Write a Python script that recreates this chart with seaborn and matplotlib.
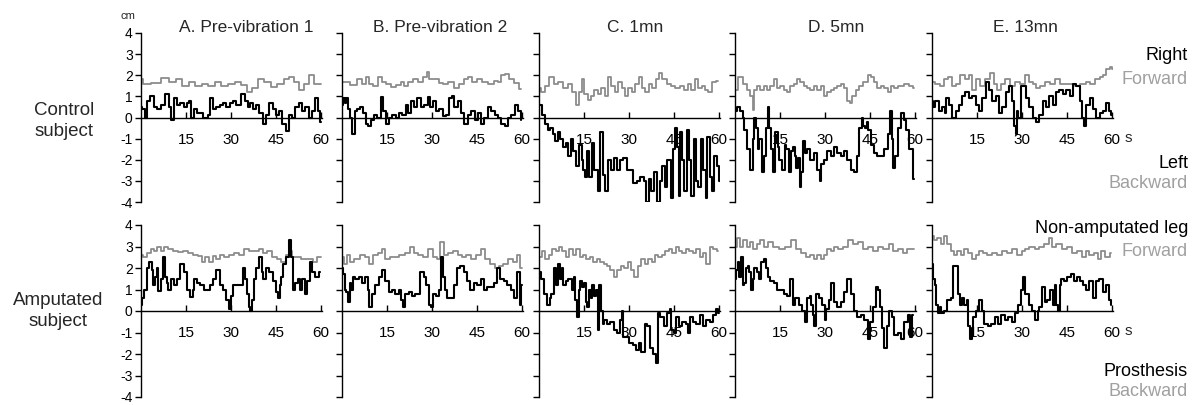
import matplotlib
matplotlib.use('Agg')
import matplotlib.pyplot as plt
import seaborn as sns

sns.set_style('white')
plt.rcParams['font.family'] = ['Liberation Sans', 'DejaVu Sans']

# ---------------- data (time in s, displacement in cm) ----------------
# Control subject
ctl_A_black_t = [0,0.8,1.6,2.4,3.6,4.9,6.0,7.1,8.8,9.9,10.4,11.5,12.6,13.7,14.8,15.7,16.4,17.2,18.1,19.2,
                 20.3,20.8,21.9,22.5,23.5,24.6,25.7,26.8,27.9,29.0,30.1,31.2,32.3,34.0,35.0,36.1,36.7,37.8,38.9,40.0,
                 41.1,42.2,43.3,44.4,45.5,46.5,47.6,48.7,49.8,50.9,52.0,53.1,54.2,55.3,56.4,57.5,58.6,59.1,60.0]
ctl_A_black_cm = [0.5,0.4,0.0,0.8,1.0,0.5,0.4,0.6,1.1,0.5,-0.1,0.9,0.6,0.7,0.5,0.7,0.8,0.0,0.4,0.2,
                  0.2,0.0,0.0,0.1,0.9,0.4,0.5,0.6,0.7,0.5,0.7,0.8,0.6,1.1,0.8,0.5,0.7,0.4,0.6,0.2,
                  -0.3,0.1,0.7,0.4,0.1,0.3,-0.3,-0.65,0.1,0.0,0.5,0.7,0.3,0.5,0.0,0.3,0.9,0.3,-0.2]
ctl_A_gray_t = [0,1.6,4.9,8.2,10.4,12.6,14.8,17.0,19.2,21.4,23.5,25.7,27.9,30.1,32.3,34.5,36.1,37.8,40.0,42.2,
                44.4,46.5,48.7,49.8,52.0,53.6,55.3,56.4,58.6,60.0]
ctl_A_gray_cm = [1.8,1.6,1.65,1.85,1.7,1.8,1.5,1.7,1.5,1.6,1.5,1.7,1.5,1.6,1.7,1.55,1.2,1.4,1.8,1.7,
                 1.45,1.6,1.8,1.9,1.7,1.3,1.6,2.0,1.6,1.6]

ctl_B_black_t = [0,0.6,1.1,1.7,2.2,2.8,3.9,4.5,5.6,6.7,7.3,8.4,8.9,10.1,11.2,12.3,13.4,14.0,15.1,16.2,
                 17.3,18.4,19.6,20.7,21.8,22.3,23.5,24.6,25.7,26.8,27.9,29.1,29.6,30.7,31.8,33.0,34.1,35.2,36.3,36.9,
                 38.0,39.1,40.2,41.3,42.5,43.6,44.7,45.8,46.9,48.0,49.2,50.3,51.4,52.5,53.6,54.7,55.9,57.0,58.1,59.2,59.8]
ctl_B_black_cm = [0.6,0.9,0.7,0.9,0.4,0.0,-0.8,0.3,0.4,0.5,0.2,-0.3,-0.4,-0.1,0.1,0.0,0.95,0.3,-0.3,0.0,
                  0.1,0.0,0.2,0.1,0.6,0.2,0.8,0.5,0.9,0.5,0.6,0.95,0.5,0.8,0.3,0.4,0.05,0.1,0.9,1.0,
                  0.5,0.8,0.2,-0.3,0.1,0.3,-0.1,0.2,-0.3,0.0,0.5,0.3,0.1,0.0,-0.3,-0.4,0.0,0.1,0.6,0.3,-0.1]
ctl_B_gray_t = [0,1.7,3.9,6.1,7.3,8.4,9.5,11.2,12.8,14.0,15.6,17.3,19.0,20.1,21.2,22.9,24.6,26.3,27.9,28.7,
                29.6,31.3,33.0,34.6,36.3,38.0,39.7,41.3,42.5,44.1,45.8,47.5,49.7,51.4,52.5,53.6,54.7,56.4,58.1,59.8]
ctl_B_gray_cm = [1.7,1.7,1.55,1.8,1.6,1.9,1.6,1.5,1.9,1.7,1.6,1.45,1.55,1.7,1.5,1.7,1.8,1.7,1.9,2.15,
                 1.8,1.8,1.65,1.6,1.7,1.4,1.6,1.8,1.9,1.7,1.8,1.7,1.6,1.75,1.7,2.0,2.05,1.8,1.65,1.35]

ctl_C_black_t = [0,0.3,1.5,2.6,3.2,4.3,4.9,6.0,6.6,7.7,8.3,9.4,10.0,11.1,11.7,12.8,13.9,14.5,15.1,15.6,
                 16.2,17.3,17.9,19.0,20.2,20.7,21.9,22.4,23.6,24.7,25.3,26.4,27.5,28.7,29.8,30.9,32.0,33.2,34.3,35.4,
                 36.0,37.1,37.7,38.8,40.0,40.5,41.7,42.2,43.4,44.5,45.1,45.6,46.2,46.8,47.3,47.9,49.0,49.6,50.2,51.3,
                 51.9,52.4,53.6,54.1,55.3,55.8,56.4,57.5,58.1,58.7,59.8,60.2]
ctl_C_black_cm = [0.5,0.6,0.1,-0.3,-0.6,-0.5,-0.8,-1.1,-0.7,-1.0,-1.4,-1.2,-1.8,-1.0,-1.6,-2.3,-1.3,-2.0,-2.5,-2.8,
                  -1.6,-2.8,-1.2,-2.5,-3.5,-0.7,-2.7,-3.5,-2.0,-2.5,-1.9,-2.5,-2.0,-1.9,-2.5,-2.5,-3.1,-3.0,-2.8,-3.0,
                  -4.0,-2.9,-3.5,-2.6,-4.0,-3.0,-2.3,-3.3,-2.0,-3.8,-1.5,-0.5,-1.4,-3.7,-0.7,-2.0,-3.5,-0.6,-2.0,-3.7,
                  -1.0,-3.0,-3.3,-1.0,-2.5,-3.8,-0.9,-2.8,-3.5,-1.8,-2.3,-3.0]
ctl_C_gray_t = [0,1.5,2.6,4.3,5.4,7.1,8.8,10.5,11.7,12.8,13.9,14.5,15.6,16.8,17.9,19.0,20.2,21.3,22.4,23.6,
                24.7,25.8,26.9,28.1,29.2,30.3,31.5,32.6,33.7,34.9,36.0,37.1,38.3,39.4,40.5,41.7,43.4,44.5,46.2,47.9,
                49.0,50.2,51.3,52.4,53.6,54.7,55.8,56.9,58.1,59.8]
ctl_C_gray_cm = [1.4,1.2,1.5,1.9,1.6,1.7,1.4,1.6,1.2,0.6,1.2,1.8,1.1,0.85,1.0,1.3,1.1,1.4,1.0,1.9,
                 1.5,1.2,1.7,1.4,1.0,1.4,1.2,1.6,1.9,1.4,1.2,1.6,1.4,1.8,2.1,1.8,1.6,1.5,1.4,1.5,
                 1.3,1.6,1.3,1.8,1.4,1.5,1.3,1.2,1.7,1.75]

ctl_D_black_t = [0,1.1,2.2,2.8,3.4,4.5,5.6,6.1,6.7,7.3,7.8,8.4,9.5,10.1,10.6,11.2,11.7,12.3,12.8,14.0,
                 14.5,15.1,16.2,16.8,17.3,18.4,19.0,19.6,20.1,20.7,21.2,21.8,22.3,22.9,23.5,24.6,25.7,26.8,27.9,28.5,
                 29.1,30.2,31.3,32.4,33.5,34.6,35.8,36.9,38.0,39.1,40.2,40.8,41.9,42.5,43.0,43.6,44.1,44.7,45.8,46.9,
                 48.0,49.2,50.3,51.4,52.0,52.5,53.1,53.6,54.7,55.9,56.4,57.5,58.7,59.8]
ctl_D_black_cm = [0.3,0.5,0.3,0.0,-0.6,-1.5,-2.5,-1.0,0.0,-0.5,-1.5,-1.0,-2.6,-1.8,-0.5,0.5,-0.5,-1.5,-2.6,-0.7,
                  -1.4,-2.0,-2.5,-1.3,-1.5,-2.6,-1.6,-1.4,-1.8,-2.4,-1.9,-3.3,-2.6,-1.1,-1.7,-1.5,-2.0,-1.7,-2.5,-3.0,
                  -2.2,-2.0,-1.6,-1.8,-1.4,-1.7,-1.8,-1.6,-2.0,-2.5,-2.6,-1.8,-0.5,0.0,-0.4,-0.5,-0.2,-0.6,-1.3,-1.7,
                  -1.8,-1.8,-1.5,-0.8,0.3,-1.0,-2.4,-1.8,-0.5,0.2,-0.1,-0.6,-1.5,-2.9]
ctl_D_gray_t = [0,2.2,3.4,4.5,5.6,6.1,6.7,7.8,8.9,10.1,11.2,12.3,13.4,14.5,15.6,16.8,17.9,19.0,20.1,21.2,
                22.3,23.5,24.6,25.7,26.8,27.9,29.1,30.2,31.3,32.4,33.5,34.6,35.8,36.9,38.0,38.5,39.7,40.8,41.9,43.6,
                44.7,45.8,46.9,48.0,49.2,50.3,51.4,52.5,53.6,55.3,57.0,58.7,59.8]
ctl_D_gray_cm = [1.3,1.9,1.6,1.3,1.0,0.35,1.3,1.5,1.3,1.5,1.3,1.5,1.8,1.4,1.5,1.3,1.2,1.5,1.6,1.8,
                 1.7,1.5,1.4,1.3,1.5,1.3,1.5,1.0,1.2,1.3,1.4,1.5,1.6,1.4,0.8,0.7,1.0,1.3,1.5,1.7,
                 2.0,1.9,1.7,1.4,1.5,1.4,1.2,1.5,1.4,1.5,1.6,1.5,1.4]

ctl_E_black_t = [0,0.6,1.7,2.8,3.9,4.5,5.0,6.1,7.3,8.4,9.5,10.6,11.7,12.8,14.0,15.1,16.2,17.3,18.4,19.6,
                 20.7,21.8,22.9,24.0,25.1,26.3,27.0,27.7,28.0,28.4,29.1,30.2,30.7,31.8,33.0,34.1,35.2,36.3,37.4,38.5,
                 39.7,40.8,41.9,43.0,44.1,45.3,46.4,47.5,48.6,49.7,50.3,50.8,52.0,53.1,54.2,55.3,56.4,57.5,58.7,59.2,60.0]
ctl_E_black_cm = [0.8,0.5,0.8,0.3,0.5,0.2,0.9,0.6,0.0,0.3,0.6,1.0,1.2,0.9,1.0,0.6,0.3,0.9,1.7,1.3,
                  0.8,1.0,0.2,0.5,1.2,1.5,0.8,-0.4,-0.8,0.3,0.0,1.5,1.5,0.9,0.5,0.0,-0.2,0.1,0.8,0.5,
                  1.0,0.6,1.2,1.3,1.1,1.3,1.0,1.6,1.5,0.8,0.0,-0.4,0.6,0.9,0.4,0.0,0.2,0.3,0.7,0.3,0.1]
ctl_E_gray_t = [0,1.7,3.4,4.5,6.1,7.3,8.4,10.1,11.7,12.8,14.0,15.1,16.8,18.4,20.1,21.2,22.3,23.5,25.1,26.8,
                28.5,30.2,31.8,33.0,34.1,35.2,36.9,38.5,40.2,41.9,43.6,45.3,46.9,48.6,50.3,52.0,53.6,55.3,56.4,57.5,
                58.7,59.8,60.2]
ctl_E_gray_cm = [1.7,1.6,1.5,1.8,1.9,1.5,1.6,2.0,1.8,2.0,1.3,1.8,1.5,1.8,2.1,1.6,1.3,1.6,1.8,1.5,
                 1.7,1.6,2.0,1.7,1.6,1.4,1.5,1.7,1.6,1.8,1.6,1.6,1.6,1.5,1.6,1.7,1.6,1.8,1.9,2.0,
                 2.3,2.4,2.3]

# Amputated subject
amp_A_black_t = [0,0.5,1.6,2.2,3.3,3.8,4.4,4.9,5.5,6.0,7.1,7.7,8.2,8.8,9.3,10.4,11.5,12.6,13.7,14.8,
                 15.9,17.0,17.5,18.1,19.2,20.3,21.4,22.5,23.5,24.6,25.7,26.8,27.9,29.0,29.6,30.1,31.2,32.3,33.4,34.5,
                 35.0,35.6,36.1,36.7,37.2,37.8,38.9,40.0,40.5,41.1,42.2,43.3,44.4,45.5,46.0,46.5,47.1,47.6,48.7,49.8,
                 50.4,50.9,52.0,52.6,53.1,54.2,54.8,55.9,56.4,57.5,58.6,59.7]
amp_A_black_cm = [0.3,0.6,1.0,2.0,2.3,1.9,1.2,1.6,2.0,0.95,1.5,2.5,1.6,1.3,1.0,1.5,1.2,1.5,2.2,1.8,
                  1.0,0.65,1.0,1.5,1.3,1.2,1.0,1.0,1.2,1.5,1.9,1.2,1.0,0.5,0.1,0.7,1.2,1.2,1.2,2.0,
                  1.5,0.8,0.2,0.0,0.5,1.5,2.0,2.5,1.8,1.5,2.0,1.8,1.4,0.9,0.6,1.2,1.6,2.2,2.5,3.3,
                  2.5,1.0,1.3,1.5,1.0,1.5,0.8,1.4,2.3,1.8,1.6,1.8]
amp_A_gray_t = [0,1.6,2.7,3.8,4.9,6.0,7.1,8.2,9.9,11.5,13.1,14.8,16.4,18.1,19.7,20.8,21.9,23.5,24.6,25.7,
                26.8,28.5,30.1,31.8,33.4,35.0,36.7,38.3,40.0,41.1,42.7,44.4,46.0,47.6,48.7,49.8,50.9,52.6,54.2,56.4,
                58.0,59.1,60.0]
amp_A_gray_cm = [2.6,2.5,2.7,2.9,2.8,3.0,2.8,3.0,2.9,2.8,2.75,2.8,2.7,2.6,2.55,2.3,2.5,2.3,2.55,2.4,
                 2.6,2.5,2.6,2.7,2.6,2.9,2.8,2.8,2.9,2.7,2.8,2.5,2.4,2.3,2.6,2.8,2.5,2.5,2.4,2.4,
                 2.3,2.5,2.5]

amp_B_black_t = [0,0.6,1.1,1.7,2.2,2.8,3.3,3.9,5.0,6.1,7.2,8.3,8.9,9.4,10.6,11.7,12.8,13.9,15.0,16.1,
                 17.2,18.3,19.4,20.0,20.6,21.7,22.8,23.9,25.0,26.7,27.8,28.3,29.4,30.0,30.6,31.7,32.8,33.3,33.9,34.4,
                 35.6,36.7,37.8,38.9,40.0,41.1,42.2,43.3,44.4,45.6,46.7,47.8,48.9,50.0,51.1,52.2,53.3,54.4,55.6,56.7,
                 57.8,58.9,59.4,60.0]
amp_B_black_cm = [2.0,1.7,1.0,0.9,0.4,1.3,1.0,1.6,1.5,1.6,1.3,1.6,1.0,0.2,0.8,1.2,1.6,1.9,1.4,0.9,
                  1.0,0.8,1.0,0.5,0.2,0.8,0.9,0.7,0.8,1.8,1.6,1.2,0.3,0.2,0.8,0.7,1.0,2.5,1.6,1.0,
                  0.6,0.6,1.2,2.0,2.1,1.8,1.4,1.0,1.3,1.2,1.5,1.0,1.1,1.1,1.3,2.0,1.5,1.4,1.2,1.0,
                  0.6,1.8,0.3,1.2]
amp_B_gray_t = [0,1.1,2.2,3.3,5.0,6.7,8.3,9.4,11.1,12.8,13.9,15.0,16.7,18.3,20.0,21.7,23.3,24.4,26.1,27.8,
                29.4,31.1,32.2,33.3,34.4,36.1,37.8,39.4,40.6,42.2,43.9,45.6,47.2,48.3,50.0,51.7,52.8,54.4,56.1,57.8,
                58.9,60.0]
amp_B_gray_cm = [2.5,2.2,2.6,2.3,2.4,2.6,2.5,2.2,2.6,2.7,2.9,2.4,2.5,2.5,2.6,2.7,3.0,2.7,2.6,2.5,
                 2.9,2.5,2.4,3.2,2.6,2.7,2.8,2.6,2.5,2.6,2.4,2.6,2.9,2.4,2.2,2.0,2.1,2.2,2.4,2.3,
                 2.6,2.0]

amp_C_black_t = [0,0.3,0.9,2.1,3.2,3.8,4.3,5.5,6.1,6.6,7.2,7.8,8.3,9.5,10.1,10.6,11.2,11.8,12.3,12.9,
                 13.5,14.1,14.6,15.2,15.8,16.3,16.9,17.5,18.1,18.6,19.2,19.8,20.3,20.9,21.5,22.1,23.2,24.3,25.5,26.6,
                 27.2,27.8,28.3,29.5,30.6,31.8,32.9,33.5,34.6,35.8,36.3,37.5,38.6,39.2,39.8,40.9,42.1,43.2,43.8,44.3,
                 45.5,46.1,47.2,48.3,49.5,50.1,50.6,51.8,52.9,54.1,55.2,56.3,57.5,58.6,59.5,60.0]
amp_C_black_cm = [1.5,1.8,1.5,0.8,0.3,0.6,0.8,2.0,1.2,2.2,1.5,2.0,1.2,1.4,1.5,1.5,1.0,1.6,0.5,-0.3,
                  1.0,1.4,1.1,1.3,0.4,0.2,1.0,0.6,1.2,0.7,1.0,-0.9,1.2,0.0,-0.6,-0.4,-0.6,-0.5,-0.9,-1.0,
                  -0.4,0.0,-1.2,-1.2,-1.5,-1.6,-1.8,-1.5,-1.9,-0.6,-0.7,-1.7,-2.0,-2.4,-0.1,-0.3,-0.7,-0.1,0.1,-0.9,
                  -1.0,-0.3,-0.7,-0.5,-0.6,-1.0,-0.3,-0.5,-0.6,-0.2,-0.7,-0.4,-0.5,-0.2,0.1,-0.1]
amp_C_gray_t = [0,0.3,1.5,2.6,3.8,4.9,6.1,7.2,8.3,9.5,10.6,11.8,12.9,14.1,15.2,16.3,17.5,18.6,19.8,20.9,
                22.1,23.2,24.3,25.5,26.6,27.8,28.9,30.1,31.2,32.3,33.5,34.6,35.8,36.9,38.1,39.2,40.3,41.5,42.6,43.8,
                44.9,46.1,47.2,48.3,49.5,50.6,51.8,52.9,54.1,55.2,56.3,57.5,58.6,59.8]
amp_C_gray_cm = [2.5,2.5,2.8,2.4,2.6,2.9,2.8,3.0,2.8,2.5,2.9,2.6,2.9,2.5,2.6,2.4,2.5,2.3,2.4,2.3,
                 2.2,2.1,1.9,1.6,1.9,2.1,2.0,2.3,1.9,1.6,2.1,2.4,2.2,2.4,2.3,2.6,2.5,2.6,2.8,2.9,
                 2.7,3.0,2.8,2.7,2.9,2.8,2.7,2.9,2.5,2.7,2.2,3.0,2.9,2.8]

amp_D_black_t = [0,0.6,1.1,1.7,2.2,2.8,3.4,3.9,4.5,5.0,5.6,6.1,6.7,7.8,8.4,8.9,10.1,10.6,11.2,12.3,
                 13.4,14.5,15.6,16.8,17.9,19.0,19.6,20.7,21.8,22.9,23.5,24.6,25.1,25.7,26.3,26.6,27.4,28.5,29.6,30.2,
                 30.7,31.8,32.4,33.5,34.6,35.8,36.9,38.0,39.1,40.2,41.3,42.5,43.6,44.7,45.3,46.4,47.5,48.0,48.6,49.2,
                 50.3,50.8,52.0,52.5,53.6,54.7,55.9,57.0,58.1,58.7,59.2]
amp_D_black_cm = [1.5,1.9,2.3,1.6,2.5,1.2,1.3,2.0,2.1,1.8,1.0,1.5,2.0,1.8,1.5,2.3,2.4,2.0,1.6,1.4,
                  1.3,1.0,1.0,0.8,0.7,1.5,0.3,0.6,0.3,0.0,-0.5,0.6,0.7,0.3,-0.2,-0.7,0.8,0.6,0.3,-0.4,
                  0.1,0.5,1.3,0.4,0.2,0.4,0.9,1.5,0.8,0.0,-0.3,-0.2,-0.4,-1.3,-0.5,0.2,1.1,1.0,0.2,-0.8,
                  -1.7,-0.7,0.0,-0.3,-1.1,-1.0,-1.3,-0.5,-0.2,-1.2,-0.2]
amp_D_gray_t = [0,1.1,2.2,3.4,4.5,5.6,6.7,7.8,8.9,10.1,11.7,13.4,15.6,17.9,19.6,21.2,22.9,24.6,25.7,26.8,
                27.9,29.1,30.2,31.3,32.4,33.5,35.2,36.9,38.5,40.2,41.9,43.6,45.3,46.9,48.6,50.3,52.0,53.6,55.3,56.4,
                58.1,59.8]
amp_D_gray_cm = [3.0,3.4,3.0,3.3,3.0,3.2,2.9,3.1,3.3,3.0,3.2,3.0,2.9,3.0,3.3,2.9,2.7,2.5,2.6,2.4,
                 2.6,2.4,2.6,2.9,2.8,3.0,2.9,3.0,3.3,3.1,3.2,2.9,3.0,2.8,3.0,2.9,3.1,2.8,2.9,2.7,
                 2.9,2.9]

amp_E_black_t = [0,0.6,1.1,1.7,2.3,2.8,3.4,4.5,5.6,6.8,7.3,8.5,9.0,9.6,10.1,11.3,11.8,12.4,13.0,13.5,
                 14.1,15.2,16.3,16.9,18.0,19.2,20.3,21.4,22.5,23.7,24.8,25.9,27.1,28.2,29.3,29.9,30.4,31.6,32.7,33.8,
                 35.0,35.5,36.1,37.2,37.8,38.9,40.0,40.6,41.1,41.7,42.3,42.8,43.4,44.5,45.7,46.8,47.9,49.0,49.6,50.7,
                 51.9,53.0,54.1,55.2,56.4,57.5,58.6,59.2,59.8]
amp_E_black_cm = [2.2,1.5,1.2,0.3,-0.1,0.2,-0.1,0.0,0.5,0.6,2.1,2.1,0.8,0.3,0.6,0.3,0.5,-0.7,-1.3,-0.8,
                  -0.3,0.0,0.5,0.0,-0.6,-0.7,-0.6,-0.3,-0.6,-0.2,-0.4,-0.3,-0.5,-0.1,0.3,1.0,1.6,0.8,0.3,0.0,
                  -0.4,0.0,0.2,1.1,0.4,0.5,1.0,0.3,1.2,0.3,0.0,1.2,1.5,1.4,1.6,1.7,1.4,1.6,1.4,1.2,
                  1.0,1.4,0.6,1.4,1.5,0.9,1.2,0.5,0.3]
amp_E_gray_t = [0,1.1,2.3,3.4,4.5,5.6,6.8,7.9,9.0,10.1,11.3,12.4,14.1,15.2,16.3,17.5,19.2,20.9,22.5,24.2,
                25.9,27.6,29.3,30.4,31.6,33.3,35.0,36.6,38.3,39.5,40.6,42.3,44.0,45.7,47.4,49.0,50.7,51.9,53.0,54.7,
                55.8,57.0,58.6,59.8]
amp_E_gray_cm = [3.5,3.3,3.4,3.1,3.5,3.1,2.8,2.6,2.8,2.6,2.9,2.7,2.4,2.6,2.8,2.7,2.6,2.7,2.6,2.8,
                 2.7,2.9,2.6,2.8,2.9,3.0,2.9,3.0,3.1,3.4,3.0,3.1,2.9,3.0,2.7,2.8,2.5,2.8,2.6,2.7,
                 2.4,2.8,2.5,2.7]

panel_titles = ['A. Pre-vibration 1', 'B. Pre-vibration 2', 'C. 1mn', 'D. 5mn', 'E. 13mn']
x_tick_values = [15, 30, 45, 60]
y_tick_values = [-4, -3, -2, -1, 0, 1, 2, 3, 4]

series = [
    [(ctl_A_gray_t, ctl_A_gray_cm, ctl_A_black_t, ctl_A_black_cm),
     (ctl_B_gray_t, ctl_B_gray_cm, ctl_B_black_t, ctl_B_black_cm),
     (ctl_C_gray_t, ctl_C_gray_cm, ctl_C_black_t, ctl_C_black_cm),
     (ctl_D_gray_t, ctl_D_gray_cm, ctl_D_black_t, ctl_D_black_cm),
     (ctl_E_gray_t, ctl_E_gray_cm, ctl_E_black_t, ctl_E_black_cm)],
    [(amp_A_gray_t, amp_A_gray_cm, amp_A_black_t, amp_A_black_cm),
     (amp_B_gray_t, amp_B_gray_cm, amp_B_black_t, amp_B_black_cm),
     (amp_C_gray_t, amp_C_gray_cm, amp_C_black_t, amp_C_black_cm),
     (amp_D_gray_t, amp_D_gray_cm, amp_D_black_t, amp_D_black_cm),
     (amp_E_gray_t, amp_E_gray_cm, amp_E_black_t, amp_E_black_cm)],
]

# ---------------- layout ----------------
W, H = 1203, 405
fig = plt.figure(figsize=(W / 100, H / 100), dpi=100)
fig.patch.set_facecolor('white')

panel_left_px = [141, 342, 539, 735, 932]
panel_w_px = 181
row_px = [(33, 202), (225, 397)]
GRAY = '#8c8c8c'
LIGHT = '#a0a0a0'

for r, (ytop, ybot) in enumerate(row_px):
    for c, x0 in enumerate(panel_left_px):
        ax = fig.add_axes([x0 / W, 1 - ybot / H, panel_w_px / W, (ybot - ytop) / H])
        ax.set_facecolor('none')
        gt, gv, bt, bv = series[r][c]
        sns.lineplot(x=gt, y=gv, ax=ax, color=GRAY, linewidth=1.3, drawstyle='steps-mid',
                     estimator=None, sort=False)
        sns.lineplot(x=bt, y=bv, ax=ax, color='black', linewidth=1.5, drawstyle='steps-mid',
                     estimator=None, sort=False)
        ax.set_xlim(0, 60.3)
        ax.set_ylim(-4, 4)
        ax.set_xlabel('')
        ax.set_ylabel('')
        ax.grid(False)
        for s in ('top', 'right'):
            ax.spines[s].set_visible(False)
        ax.spines['bottom'].set_position(('data', 0))
        for s in ('left', 'bottom'):
            ax.spines[s].set_color('black')
            ax.spines[s].set_linewidth(1.0)
        ax.set_xticks(x_tick_values)
        ax.set_xticklabels([str(v) for v in x_tick_values])
        ax.set_yticks(y_tick_values)
        ax.set_yticklabels([str(v) for v in y_tick_values])
        ax.tick_params(axis='x', direction='in', length=4, width=1, pad=11, labelsize=11,
                       colors='black', bottom=True)
        ax.tick_params(axis='y', direction='out', length=4, width=1, pad=2, labelsize=10,
                       colors='black', left=True, labelleft=(c == 0))
        if c == 4:
            ax.text(64.0, -0.95, 's', fontsize=11, ha='left', va='center', clip_on=False)

# "cm" unit
fig.text(128 / W, 1 - 16 / H, 'cm', fontsize=8, ha='center', va='center')

# panel titles
title_x_px = [246, 440, 635, 836, 1025]
for tx, title in zip(title_x_px, panel_titles):
    fig.text(tx / W, 1 - 28 / H, title, fontsize=12.5, ha='center', va='center')

# row labels
fig.text(64 / W, 1 - 121 / H, 'Control\nsubject', fontsize=13.5, ha='center', va='center',
         linespacing=1.25)
fig.text(58 / W, 1 - 311 / H, 'Amputated\nsubject', fontsize=13.5, ha='center', va='center',
         linespacing=1.25)

# direction labels
right_labels = [
    ('Right', 56, 'black'), ('Forward', 80, LIGHT),
    ('Left', 163, 'black'), ('Backward', 183, LIGHT),
    ('Non-amputated leg', 228, 'black'), ('Forward', 252, LIGHT),
    ('Prosthesis', 371, 'black'), ('Backward', 392, LIGHT),
]
for txt, ypx, col in right_labels:
    fig.text(1188 / W, 1 - ypx / H, txt, fontsize=13, ha='right', va='center', color=col)

fig.savefig('out.png', dpi=100, facecolor='white')
